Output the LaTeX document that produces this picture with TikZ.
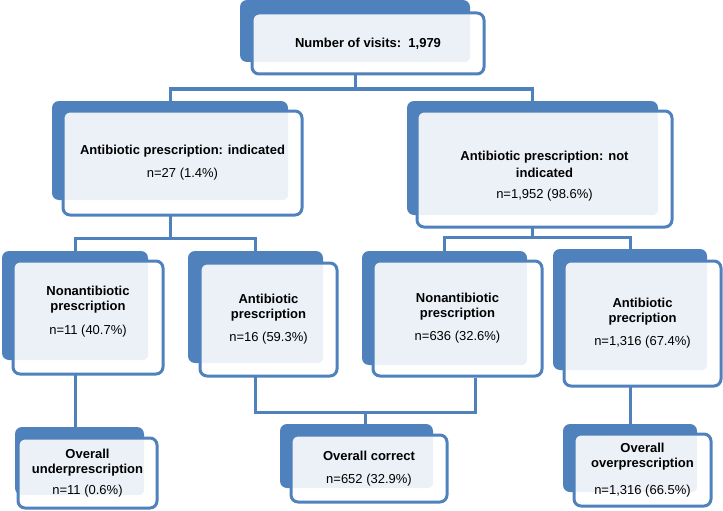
\documentclass[tikz,border=0pt]{standalone}
\usepackage{fontspec}
\setmainfont{Liberation Sans}
\usetikzlibrary{positioning,calc}
\definecolor{boxblue}{RGB}{79,129,189}
\definecolor{boxlight}{RGB}{236,241,248}
\pgfdeclarelayer{background}
\pgfsetlayers{background,main}
\tikzset{
    backbox/.style={fill=boxblue,rounded corners=7pt,inner sep=0pt},
    frontbox/.style={draw=boxblue,line width=3pt,fill=white,rounded corners=7pt,
        inner sep=0pt,align=center,font=\fontsize{13}{15}\selectfont,
        path picture={\fill[boxlight,rounded corners=6pt]
            ([shift={(-10pt,10pt)}]path picture bounding box.north west) rectangle (#1.south east);}},
    link/.style={draw=boxblue,line width=3pt}
}

\begin{document}
\begin{tikzpicture}[x=1pt,y=-1pt]
        \useasboundingbox (0,0) rectangle (723,511);

        % Top box
        \node[backbox,minimum width=230pt,minimum height=62pt] (visits-b) at (355,31) {};
        \node[frontbox=visits-b,minimum width=232pt,minimum height=61pt] (visits) at (368,43.5)
            {\textbf{Number of visits:\ \ 1,979}};

        % Second row
        \node[backbox,minimum width=236pt,minimum height=99pt] (ind-b) at (170,150.5) {};
        \node[frontbox=ind-b,minimum width=239pt,minimum height=104pt] (ind) at (182.5,163)
            {\textbf{Antibiotic prescription: indicated}\\[8pt] n=27 (1.4\%)};

        \node[backbox,minimum width=251pt,minimum height=114pt] (notind-b) at (532.5,158) {};
        \node[frontbox=notind-b,minimum width=255pt,minimum height=116pt] (notind) at (544.5,169)
            {\raisebox{-7pt}[\height][\depth]{\shortstack{\textbf{Antibiotic prescription: not}\\[2pt]\textbf{indicated}\\[9pt] n=1,952 (98.6\%)}}};

        % Third row
        \node[backbox,minimum width=146pt,minimum height=109pt] (nonab1-b) at (75,305.5) {};
        \node[frontbox=nonab1-b,minimum width=150pt,minimum height=113pt] (nonab1) at (88,317.5)
            {\raisebox{6pt}[\height][\depth]{\shortstack{\textbf{Nonantibiotic}\\[2pt]\textbf{prescription}\\[9pt] n=11 (40.7\%)}}};

        \node[backbox,minimum width=135pt,minimum height=112pt] (ab1-b) at (255.5,307) {};
        \node[frontbox=ab1-b,minimum width=137pt,minimum height=113pt] (ab1) at (268.5,319.5)
            {\textbf{Antibiotic}\\\textbf{prescription}\\[8pt] n=16 (59.3\%)};

        \node[backbox,minimum width=165pt,minimum height=114pt] (nonab2-b) at (444.5,308) {};
        \node[frontbox=nonab2-b,minimum width=169pt,minimum height=115pt] (nonab2) at (457.5,318.5)
            {\textbf{Nonantibiotic}\\\textbf{prescription}\\[8pt] n=636 (32.6\%)};

        \node[backbox,minimum width=154pt,minimum height=121pt] (ab2-b) at (630,309.5) {};
        \node[frontbox=ab2-b,minimum width=157pt,minimum height=125pt] (ab2) at (642.5,323.5)
            {\textbf{Antibiotic}\\\textbf{precription}\\[8pt] n=1,316 (67.4\%)};

        % Bottom row
        \node[backbox,minimum width=129pt,minimum height=68pt] (under-b) at (79.5,461) {};
        \node[frontbox=under-b,minimum width=139pt,minimum height=70pt] (under) at (87.5,473)
            {\textbf{Overall}\\\textbf{underprescription}\\[6pt] n=11 (0.6\%)};

        \node[backbox,minimum width=153pt,minimum height=64pt] (correct-b) at (356.5,456) {};
        \node[frontbox=correct-b,minimum width=156pt,minimum height=67pt] (correct) at (369,468.5)
            {\textbf{Overall correct}\\[8pt] n=652 (32.9\%)};

        \node[backbox,minimum width=134pt,minimum height=68pt] (over-b) at (630,458) {};
        \node[frontbox=over-b,minimum width=137pt,minimum height=72pt] (over) at (642.5,470)
            {\textbf{Overall}\\\textbf{overprescription}\\[12pt] n=1,316 (66.5\%)};

        % Connectors
        \begin{pgfonlayer}{background}
        \coordinate (split1) at (355,89);
        \draw[link] (visits-b.south) -- (split1) -| (ind-b.north);
        \draw[link] (split1) -| (notind-b.north);

        \coordinate (split2) at (170,238);
        \draw[link] (ind-b.south) -- (split2) -| (nonab1-b.north);
        \draw[link] (split2) -| (ab1-b.north);

        \coordinate (split3) at (532.5,237);
        \draw[link] (notind-b.south) -- (split3) -| (nonab2-b.north);
        \draw[link] (split3) -| (ab2-b.north);

        \coordinate (join) at (365,412);
        \draw[link] (nonab1-b.south) -- (nonab1-b.south |- under-b.north);
        \draw[link] (ab1-b.south) |- (join);
        \draw[link] ($(nonab2.south)+(17.5,0)$) |- (join);
        \draw[link] (join) -- (join |- correct-b.north);
        \draw[link] (ab2-b.south) -- (over-b.north);
        \end{pgfonlayer}
    \end{tikzpicture}
\end{document}
